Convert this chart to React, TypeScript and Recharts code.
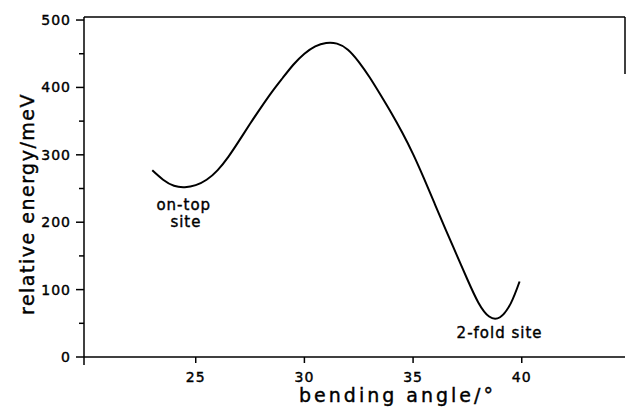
import React from 'react';
import { LineChart, Line, XAxis, YAxis, ReferenceLine, ReferenceDot } from 'recharts';

const angles = [23.0, 23.5, 24.0, 24.5, 25.0, 25.5, 26.0, 26.5, 27.0, 27.5, 28.0, 28.5, 29.0, 29.5, 30.0, 30.5, 31.0, 31.5, 32.0, 32.5, 33.0, 33.5, 34.0, 34.5, 35.0, 35.5, 36.0, 36.5, 37.0, 37.5, 38.0, 38.5, 39.0, 39.5, 39.9];
const energies = [277, 263, 254, 252, 255, 263, 277, 297, 321, 346, 370, 393, 414, 434, 450, 461, 466, 465, 456, 438, 415, 389, 362, 333, 301, 265, 227, 189, 152, 115, 81, 60, 59, 80, 112];

const xTickValues = [25, 30, 35, 40];
const yTickValues = [0, 100, 200, 300, 400, 500];
const yMinorTicks = [50, 150, 250, 350, 450];
const xDomain: [number, number] = [19.86, 44.75];
const yDomain: [number, number] = [0, 504.5];

const annotations = [
  { x: 24.45, y: 226, text: 'on-top' },
  { x: 24.55, y: 201, text: 'site' },
  { x: 38.98, y: 36, text: '2-fold site' },
];

const data = angles.map((a, i) => ({ angle: a, energy: energies[i] }));

const FONT = '"DejaVu Sans", sans-serif';
const TXT = { fontFamily: FONT, fill: '#000', stroke: '#000', strokeWidth: 0.4 };

const YTick = (props: any) => {
  const { x, y, payload } = props;
  const axisX = x + 13;
  const major = yTickValues.includes(payload.value);
  return (
    <g>
      <line x1={axisX - (major ? 8 : 5)} x2={axisX} y1={y} y2={y} stroke="#000" strokeWidth={1.5} />
      {major && (
        <text x={x} y={y} dy="0.36em" textAnchor="end" fontSize={14} letterSpacing={1} {...TXT}>
          {payload.value}
        </text>
      )}
    </g>
  );
};

const XTick = (props: any) => {
  const { x, y, payload } = props;
  const axisY = y - 14;
  const labeled = xTickValues.includes(payload.value);
  return (
    <g>
      <line x1={x} x2={x} y1={axisY} y2={axisY + (labeled ? 6 : 8)} stroke="#000" strokeWidth={1.5} />
      {labeled && (
        <text x={x} y={axisY + 25} textAnchor="middle" fontSize={14} letterSpacing={1} {...TXT}>
          {payload.value}
        </text>
      )}
    </g>
  );
};

const YLabel = (props: any) => {
  const vb = props.viewBox || { x: 0, y: 17, width: 84, height: 340 };
  const cx = vb.x + 27;
  const cy = vb.y + vb.height / 2 + 17;
  return (
    <text x={cx} y={cy} transform={`rotate(-90, ${cx}, ${cy})`} textAnchor="middle" dominantBaseline="central"
      fontSize={19} letterSpacing={1.5} {...TXT}>
      relative energy/meV
    </text>
  );
};

const XLabel = (props: any) => {
  const vb = props.viewBox || { x: 84, y: 357, width: 541, height: 52 };
  const cx = vb.x + vb.width / 2 + 43;
  const cy = vb.y + 45;
  return (
    <text x={cx} y={cy} textAnchor="middle" fontSize={19} letterSpacing={3} {...TXT}>
      bending angle/°
    </text>
  );
};

export default function App() {
  return (
    <div style={{ position: 'absolute', left: 0, top: 0, background: '#fff' }}>
      <LineChart width={626} height={409} data={data} margin={{ top: 17, right: 1, left: 0, bottom: 0 }}>
        <XAxis
          dataKey="angle"
          type="number"
          domain={xDomain}
          allowDataOverflow
          ticks={[xDomain[0], ...xTickValues]}
          tick={<XTick />}
          tickLine={false}
          tickSize={6}
          tickMargin={8}
          height={52}
          axisLine={{ stroke: '#000', strokeWidth: 1.5 }}
          label={<XLabel />}
        />
        <YAxis
          type="number"
          domain={yDomain}
          allowDataOverflow
          ticks={[...yTickValues, ...yMinorTicks].sort((a, b) => a - b)}
          tick={<YTick />}
          tickLine={false}
          tickSize={8}
          tickMargin={5}
          width={84}
          axisLine={{ stroke: '#000', strokeWidth: 1.5 }}
          label={<YLabel />}
        />
        <ReferenceLine y={yDomain[1]} stroke="#000" strokeWidth={1.5} />
        <ReferenceLine
          segment={[{ x: xDomain[1], y: 420 }, { x: xDomain[1], y: yDomain[1] }]}
          stroke="#000"
          strokeWidth={1.5}
        />
        <Line
          type="natural"
          dataKey="energy"
          stroke="#000"
          strokeWidth={2}
          dot={false}
          isAnimationActive={false}
        />
        {annotations.map((a) => (
          <ReferenceDot
            key={a.text}
            x={a.x}
            y={a.y}
            r={0}
            fill="none"
            stroke="none"
            label={{ value: a.text, position: 'center', fontSize: 15, letterSpacing: 1, ...TXT }}
          />
        ))}
      </LineChart>
    </div>
  );
}
